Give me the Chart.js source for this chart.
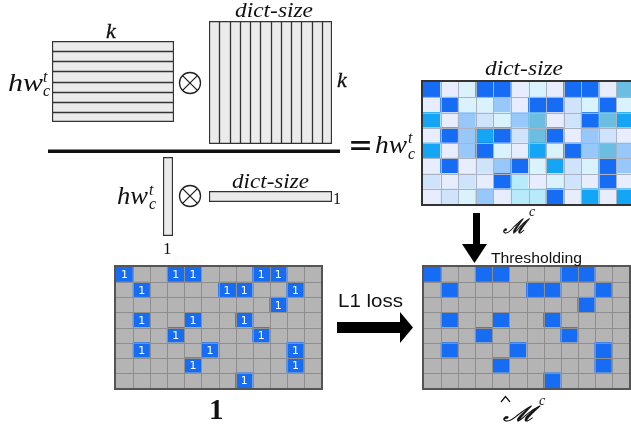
<!DOCTYPE html>
<html><head><meta charset="utf-8">
<script src="https://cdn.jsdelivr.net/npm/chart.js@4.4.1/dist/chart.umd.min.js"></script>
<style>
html,body{margin:0;padding:0;background:#fff;width:631px;height:429px;overflow:hidden;position:relative;}
.box{position:absolute;}
.box canvas{display:block;}
svg{position:absolute;left:0;top:0;pointer-events:none;}
</style></head><body>
<div class="box" style="left:52px;top:41px"><canvas id="cLeftMat" width="122" height="81"></canvas></div>
<div class="box" style="left:209px;top:21px"><canvas id="cMidMat" width="123" height="123"></canvas></div>
<div class="box" style="left:163px;top:157px"><canvas id="cVVec" width="10" height="79"></canvas></div>
<div class="box" style="left:209px;top:191px"><canvas id="cHVec" width="123" height="11"></canvas></div>
<div class="box" style="left:421px;top:80px;border:2px solid #333"><canvas id="cHeat" width="211" height="122"></canvas></div>
<div class="box" style="left:114px;top:265px;border:2px solid #555"><canvas id="cBin" width="205" height="121"></canvas></div>
<div class="box" style="left:422px;top:265px;border:2px solid #555"><canvas id="cThr" width="205" height="121"></canvas></div>

<svg width="631" height="429" xmlns="http://www.w3.org/2000/svg">
  <rect x="48" y="149.5" width="292" height="3.5" fill="#111"/>
  <g stroke="#222" stroke-width="1.3" fill="none">
    <circle cx="190" cy="83" r="10.5"/>
    <line x1="182.6" y1="75.6" x2="197.4" y2="90.4"/><line x1="197.4" y1="75.6" x2="182.6" y2="90.4"/>
    <circle cx="190" cy="196" r="10.5"/>
    <line x1="182.6" y1="188.6" x2="197.4" y2="203.4"/><line x1="197.4" y1="188.6" x2="182.6" y2="203.4"/>
  </g>
  <rect x="473" y="213" width="7" height="32" fill="#000"/>
  <polygon points="462,244 487,244 474.5,263" fill="#000"/>
  <rect x="337" y="322" width="64" height="11" fill="#000"/>
  <polygon points="400,312 400,343 413,327.5" fill="#000"/>
  <polyline points="501,402 505.5,396.5 510,402" stroke="#111" stroke-width="1.2" fill="none"/>

  <g font-family="Liberation Serif, serif" font-style="italic" fill="#111">
    <text x="106" y="38" font-size="22" stroke="#111" stroke-width="0.3">k</text>
    <text x="235" y="17" font-size="20" textLength="78" lengthAdjust="spacingAndGlyphs">dict-size</text>
    <text x="8" y="91" font-size="25" textLength="35" lengthAdjust="spacingAndGlyphs">hw</text>
    <text x="43" y="82" font-size="16">t</text>
    <text x="43" y="96" font-size="16">c</text>
    <text x="337" y="87" font-size="22" stroke="#111" stroke-width="0.3">k</text>
    <text x="117" y="204" font-size="25" textLength="31" lengthAdjust="spacingAndGlyphs">hw</text>
    <text x="149" y="195" font-size="16">t</text>
    <text x="149" y="209" font-size="16">c</text>
    <text x="232" y="188" font-size="20" textLength="77" lengthAdjust="spacingAndGlyphs">dict-size</text>
    <text x="375" y="153" font-size="25" textLength="32" lengthAdjust="spacingAndGlyphs">hw</text>
    <text x="408" y="143" font-size="16">t</text>
    <text x="408" y="159" font-size="16">c</text>
    <text x="485" y="75" font-size="20" textLength="78" lengthAdjust="spacingAndGlyphs">dict-size</text>
    <text x="529" y="216" font-size="14">c</text>
    <text x="539" y="405" font-size="14">c</text>
  </g>
  <g font-family="Liberation Serif, serif" fill="#111">
    <text x="333" y="204" font-size="16">1</text>
    <text x="163" y="254" font-size="17">1</text>
    <text x="209" y="419" font-size="29" font-weight="bold">1</text>
  </g>
  <g font-family="DejaVu Serif, serif" font-style="italic" fill="#111" stroke="#111" stroke-width="0.5">
    <text x="503" y="233" font-size="20" textLength="23" lengthAdjust="spacingAndGlyphs">ℳ</text>
    <text x="503" y="421" font-size="21" textLength="32" lengthAdjust="spacingAndGlyphs">ℳ</text>
  </g>
  <text x="348" y="156" font-family="DejaVu Sans, sans-serif" font-size="32" textLength="25" lengthAdjust="spacingAndGlyphs" fill="#111">=</text>
  <g font-family="Liberation Sans, Arial, sans-serif" fill="#111">
    <text x="491" y="263" font-size="15" textLength="91" lengthAdjust="spacingAndGlyphs">Thresholding</text>
    <text x="338" y="307" font-size="19" textLength="65" lengthAdjust="spacingAndGlyphs">L1 loss</text>
  </g>
</svg>

<script>
// ---- data ----
const gridColumns = ['c1','c2','c3','c4','c5','c6','c7','c8','c9','c10','c11','c12'];   // dict-size entries
const gridRowCount = 8;                                                                  // hw_c^t rows
// Similarity matrix M^c, one shade code per cell (row by row, top to bottom)
const heatShadeRows = [
  'DPADDPAPDDPT',
  'PDAAMPDDLADA',
  'CPMLAMTPLDTC',
  'PDMCDLTDPMLP',
  'CPMDAPCADMTM',
  'PDPLMDACLADM',
  'LPLPDSPALPDP',
  'PLAMPSSDPCPC'
];
const shadePalette = {D:'#176cf4', C:'#14a5f5', T:'#6bbde2', M:'#98c8f9', L:'#cfe3fb', P:'#e7edfc', A:'#d9f2fc', S:'#b7ebfb'};
// Ground-truth binary matrix: columns holding a 1 in each row
const binaryOnes = [[0,3,4,8,9],[1,6,7,10],[9],[1,4,7],[3,8],[1,5,10],[4,10],[7]];
// Thresholded M^c (same positions)
const thresholdOnes = [[0,3,4,8,9],[1,6,7,10],[9],[1,4,7],[3,8],[1,5,10],[4,10],[7]];
const leftMatrixRows = 8;    // hw_c^t x k
const midMatrixCols = 12;    // k x dict-size

const ONE_BLUE = '#176cf4', OFF_GREY = '#b4b4b4';

// crisp cell separator lines placed through the chart's own scales
const cellLines = {
  id: 'cellLines',
  afterDatasetsDraw(chart, args, o) {
    if (!o || !o.color) return;
    const {ctx, scales:{x, y}, width:W, height:H} = chart;
    const nCols = chart.data.labels.length, nRows = y.max;
    ctx.save();
    ctx.strokeStyle = o.color; ctx.lineWidth = o.width || 1;
    const snap = (v, lim) => Math.min(Math.max(Math.round(v), 0), lim - 1) + 0.5;
    const s = o.edges ? 0 : 1;
    ctx.beginPath();
    if (o.cols) for (let c = s; c <= (o.edges ? nCols : nCols - 1); c++) {
      const px = snap(x.getPixelForValue(c - 0.5), W);
      ctx.moveTo(px, 0); ctx.lineTo(px, H);
    }
    if (o.rows) for (let r = s; r <= (o.edges ? nRows : nRows - 1); r++) {
      const py = snap(y.getPixelForValue(r), H);
      ctx.moveTo(0, py); ctx.lineTo(W, py);
    }
    if (o.edges) { ctx.moveTo(0.5, 0); ctx.lineTo(0.5, H); ctx.moveTo(W - 0.5, 0); ctx.lineTo(W - 0.5, H);
                   ctx.moveTo(0, 0.5); ctx.lineTo(W, 0.5); ctx.moveTo(0, H - 0.5); ctx.lineTo(W, H - 0.5); }
    ctx.stroke();
    ctx.restore();
  }
};

const baseOpts = (rows, lines) => ({
  responsive:false, animation:false, events:[],
  layout:{padding:0},
  plugins:{legend:{display:false}, tooltip:{enabled:false}, cellLines: lines || {}},
  scales:{x:{display:false, stacked:true}, y:{display:false, stacked:true, min:0, max:rows}}
});

const onesLabels = (ones) => ({
  id: 'ones',
  afterDatasetsDraw(chart){
    const ctx = chart.ctx;
    ctx.save();
    ctx.fillStyle = '#ffffff';
    ctx.font = '11px "DejaVu Sans", sans-serif';
    ctx.textAlign = 'center'; ctx.textBaseline = 'middle';
    chart.data.datasets.forEach((ds, di) => {
      const meta = chart.getDatasetMeta(di);
      ones[ds.rowIndex].forEach(c => {
        const el = meta.data[c];
        ctx.fillText('1', el.x, (el.y + el.base) / 2 + 1);
      });
    });
    ctx.restore();
  }
});

function cellGrid(id, rowColors, lineColor, labelOnes){
  const datasets = [];
  for (let r = rowColors.length - 1; r >= 0; r--) {
    datasets.push({
      data: gridColumns.map(() => 1),
      backgroundColor: rowColors[r],
      borderWidth: 0,
      barPercentage: 1, categoryPercentage: 1, stack: 'g', rowIndex: r
    });
  }
  const plugins = [cellLines];
  if (labelOnes) plugins.push(onesLabels(labelOnes));
  return new Chart(document.getElementById(id), {type:'bar', data:{labels: gridColumns, datasets},
    options: baseOpts(rowColors.length, {color: lineColor, width: 1, rows: true, cols: true}), plugins});
}

const heatColors = heatShadeRows.map(s => s.split('').map(ch => shadePalette[ch]));
const onesColors = (ones) => Array.from({length: gridRowCount}, (_, r) => gridColumns.map((_, c) => ones[r].includes(c) ? ONE_BLUE : OFF_GREY));

cellGrid('cHeat', heatColors, '#aab3c2', null);
cellGrid('cBin', onesColors(binaryOnes), '#8e8e8e', binaryOnes);
cellGrid('cThr', onesColors(thresholdOnes), '#8e8e8e', null);

// striped factor matrices
const STRIPE = '#ebebeb', STRIPE_LINE = '#333333';
(function(){
  const ds = [];
  for (let r = 0; r < leftMatrixRows; r++) ds.push({data:[1], backgroundColor:STRIPE, borderWidth:0,
    barPercentage:1, categoryPercentage:1, stack:'s'});
  new Chart(document.getElementById('cLeftMat'), {type:'bar', data:{labels:['k'], datasets:ds},
    options: baseOpts(leftMatrixRows, {color: STRIPE_LINE, width: 1.3, rows: true, edges: true}), plugins:[cellLines]});
})();
(function(){
  const labels = Array.from({length: midMatrixCols}, (_, i) => 'd' + i);
  new Chart(document.getElementById('cMidMat'), {type:'bar', data:{labels, datasets:[{data: labels.map(() => 1),
    backgroundColor:STRIPE, borderWidth:0, barPercentage:1, categoryPercentage:1}]},
    options: baseOpts(1, {color: STRIPE_LINE, width: 1.3, cols: true, edges: true}), plugins:[cellLines]});
})();
['cVVec','cHVec'].forEach(id => {
  new Chart(document.getElementById(id), {type:'bar', data:{labels:['v'], datasets:[{data:[1], backgroundColor:STRIPE,
    borderWidth:0, barPercentage:1, categoryPercentage:1}]},
    options: baseOpts(1, {color: STRIPE_LINE, width: 1.3, edges: true}), plugins:[cellLines]});
});
</script>
</body></html>
